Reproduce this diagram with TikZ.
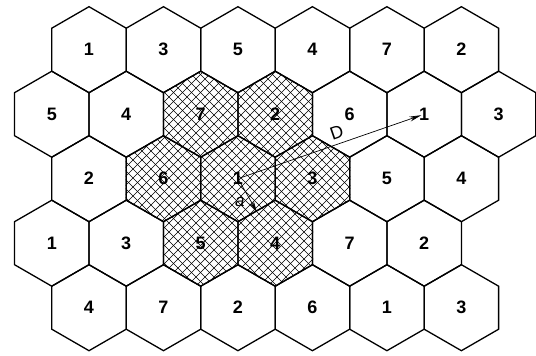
\documentclass[tikz,border=0pt]{standalone}
\usepackage{fontspec}
\setsansfont{Liberation Sans}
\usetikzlibrary{shapes.geometric,arrows.meta,calc,backgrounds}

\tikzset{
  cell/.style={regular polygon, regular polygon sides=6, shape border rotate=30,
    minimum size=86pt, inner sep=0pt, draw, line width=1.3pt,
    font=\sffamily\bfseries\fontsize{18}{20}\selectfont},
  hatch/.style={line width=0.7pt},
  ray/.style={-{Stealth[length=12pt,width=5pt]}, line width=0.7pt}
}

\begin{document}
\begin{tikzpicture}[x=1pt,y=-1pt]
\useasboundingbox (0,0) rectangle (536,356);

% cells, row by row
\foreach \row/\labels in {1/{1,3,5,4,7,2}, 2/{5,4,7,2,6,1,3}, 3/{2,6,1,3,5,4},
                          4/{1,3,5,4,7,2}, 5/{4,7,2,6,1,3}} {
  \pgfmathsetmacro\xo{isodd(\row) ? 89 : 51.76}
  \foreach \lab [count=\col] in \labels
    \node[cell] (h-\row-\col) at ({\xo+(\col-1)*74.48}, {49.7+(\row-1)*64.5}) {\lab};
}

% co-channel cluster, cross hatched
\begin{scope}[on background layer]
\clip \foreach \r/\c in {2/3,2/4,3/2,3/3,3/4,4/3,4/4} {
  (h-\r-\c.corner 1) -- (h-\r-\c.corner 2) -- (h-\r-\c.corner 3)
    -- (h-\r-\c.corner 4) -- (h-\r-\c.corner 5) -- (h-\r-\c.corner 6) -- cycle};
\foreach \k in {-40,...,60} {
  \draw[hatch] (\k*9,0) -- ++(356,356);
  \draw[hatch] (\k*9+356,0) -- ++(-356,356);
}
\end{scope}

% reuse distance and cell radius
\coordinate (edge) at ($(h-3-3.center)!0.5!(h-4-4.center)$);
\draw[ray, shorten <=3pt, shorten >=3pt] (h-3-3.center) -- (h-2-6.center)
  node[pos=0.55, above=1pt, sloped, font=\sffamily\fontsize{18}{20}\selectfont] {D};
\draw[ray, -{Stealth[length=10pt,width=5pt]}, shorten <=3pt] (h-3-3.center) -- (edge)
  node[midway, below left=-1pt, font=\sffamily\itshape\fontsize{17}{20}\selectfont] {a};
\end{tikzpicture}
\end{document}
